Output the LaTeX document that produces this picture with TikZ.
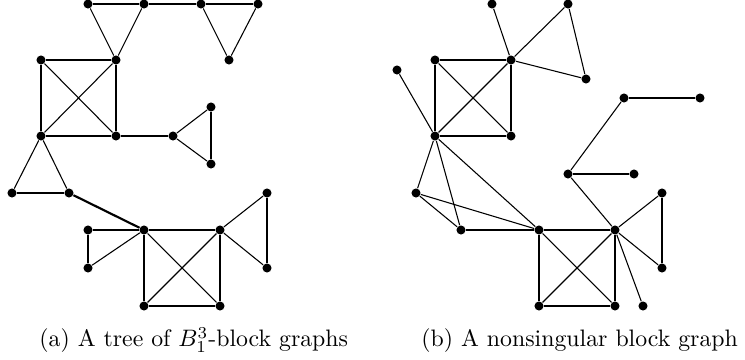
\documentclass[tikz,border=0pt]{standalone}
\begin{document}
\begin{tikzpicture}[x=0.42pt,y=-0.42pt,
  dot/.style={circle,fill=black,inner sep=0pt,minimum size=3.8pt},
  edge/.style={line width=0.45pt},
  heavy/.style={line width=0.9pt},
  caption/.style={anchor=base west,inner sep=0pt}]
\useasboundingbox (0,0) rectangle (745,360);
% ---- (a) ----
\foreach \n/\x/\y in {a1/88/4,a2/144/4,a3/201/4,a4/258/4,a5/116/60,a6/229/60,a7/41/60,
  a8/41/136,a9/116/136,a10/173/136,a11/211/107,a12/211/164,a13/12/193,a14/69/193,
  a15/144/230,a16/220/230,a17/144/306,a18/220/306,a19/88/230,a20/88/268,a21/267/193,a22/267/268}
  \node[dot] (\n) at (\x,\y) {};
\foreach \u/\v in {a1/a2,a3/a4,a1/a5,a2/a5,a3/a6,a4/a6,
  a7/a5,a5/a9,a9/a8,a8/a7,a7/a9,a5/a8,
  a10/a11,a10/a12,a11/a12,a8/a13,a8/a14,a13/a14,
  a19/a15,a19/a20,a20/a15,
  a15/a16,a16/a18,a18/a17,a17/a15,a15/a18,a16/a17,
  a16/a21,a16/a22,a21/a22}
  \draw[edge] (\u) -- (\v);
\draw[heavy] (a2) -- (a3);
\draw[heavy] (a9) -- (a10);
\draw[heavy] (a14) -- (a15);
% ---- (b) ----
\foreach \n/\x/\y in {b1/492/4,b2/568/4,b3/435/60,b4/511/60,b5/397/70,b6/586/79,
  b7/435/136,b8/511/136,b9/624/98,b10/700/98,b11/568/174,b12/634/174,b13/416/193,
  b14/461/230,b15/539/230,b16/615/230,b17/662/193,b18/662/268,b19/539/306,b20/615/306,b21/643/306}
  \node[dot] (\n) at (\x,\y) {};
\foreach \u/\v in {b1/b4,b4/b2,b2/b6,b4/b6,
  b3/b4,b4/b8,b8/b7,b7/b3,b3/b8,b4/b7,
  b5/b7,b9/b10,b9/b11,b11/b12,b11/b16,
  b7/b13,b7/b14,b7/b15,b13/b14,b13/b15,b14/b15,
  b15/b16,b16/b20,b20/b19,b19/b15,b15/b20,b16/b19,
  b16/b17,b16/b18,b17/b18,b16/b21}
  \draw[edge] (\u) -- (\v);
% ---- captions ----
\node[caption] (capa) at (39,347) {(a) A tree of $B_1^3$-block graphs};
\node[caption] (capb) at (421,347) {(b) A nonsingular block graph};
\end{tikzpicture}
\end{document}
